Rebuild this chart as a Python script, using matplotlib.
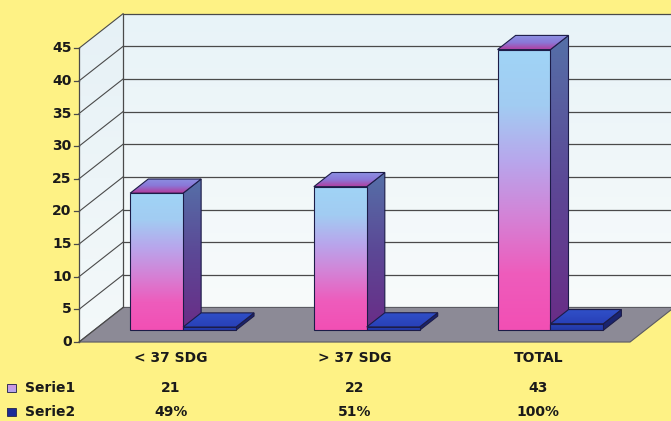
import numpy as np
import matplotlib
matplotlib.use('Agg')
import matplotlib.pyplot as plt
from matplotlib.patches import Polygon
from matplotlib.colors import LinearSegmentedColormap

categories = ['< 37 SDG', '> 37 SDG', 'TOTAL']
serie1 = [21, 22, 43]
serie2 = [0.49, 0.51, 1.00]
series_names = ['Serie1', 'Serie2']
yticks = np.arange(0, 50, 5)

YMAX = 45
OX, OY = 0.24, 5.3      # offset of the back wall (full depth)
D0, D1 = 0.34, 0.75     # depth range of the columns
BAR_W = 0.288
BAR_C = 0.485           # centre of the column pair inside a category
EDGE = '#1c1c48'
GRID = '#4a4a4a'
TXT = dict(fontsize=10, fontweight='bold', color='#1a1a1a')

plt.rcParams['font.family'] = ['DejaVu Sans']

fig = plt.figure(figsize=(6.71, 4.21), dpi=100)
fig.patch.set_facecolor('#fef285')
ax = fig.add_axes([0, 0, 1, 1])
ax.set_facecolor('none')
ax.axis('off')


def dp(x, y, d):
    return (x + d * OX, y + d * OY)


def grad_poly(poly, colors, z, horizontal=False, edge=None, lw=0.8):
    patch = Polygon(poly, closed=True, facecolor='none',
                    edgecolor=edge if edge else 'none', lw=lw, zorder=z + 0.1)
    ax.add_patch(patch)
    xs = [p[0] for p in poly]
    ys = [p[1] for p in poly]
    cmap = LinearSegmentedColormap.from_list('g', colors)
    g = np.linspace(0, 1, 256)
    g = g[None, :] if horizontal else g[:, None]
    im = ax.imshow(g, cmap=cmap, origin='lower', aspect='auto',
                   extent=[min(xs), max(xs), min(ys), max(ys)],
                   interpolation='bilinear', zorder=z)
    im.set_clip_path(patch)


n = len(categories)

# walls and floor
back = [dp(0, 0, 1), dp(n, 0, 1), dp(n, YMAX, 1), dp(0, YMAX, 1)]
grad_poly(back, ['#f8fbfb', '#e8f3f8'], 1)
left = [(0, 0), dp(0, 0, 1), dp(0, YMAX, 1), (0, YMAX)]
grad_poly(left, ['#f4f9fa', '#e6f1f6'], 1)
floor = Polygon([(0, 0), (n, 0), dp(n, 0, 1), dp(0, 0, 1)], closed=True,
                facecolor='#8c8a96', edgecolor='#5a5a62', lw=0.8, zorder=2)
ax.add_patch(floor)

# gridlines on back and side walls
for v in yticks:
    if v > 0:
        x0, y0 = dp(0, v, 1)
        x1, y1 = dp(n, v, 1)
        ax.plot([x0, x1], [y0, y1], color=GRID, lw=0.9, zorder=3)
    bx, by = dp(0, v, 1)
    ax.plot([0, bx], [v, by], color=GRID, lw=0.8, zorder=3)
    ax.plot([-0.027, 0], [v, v], color=GRID, lw=0.9, zorder=3)
    ax.text(-0.04, v, str(v), ha='right', va='center', zorder=5, **TXT)
tx, ty = dp(0, 0, 1)
ax.plot([tx, tx], [ty, ty + YMAX], color=GRID, lw=0.9, zorder=3)
ax.plot([0, 0], [0, YMAX], color=GRID, lw=0.9, zorder=3)


def column(x0, h, front, side, top, z):
    w = BAR_W
    side_poly = [dp(x0 + w, 0, D0), dp(x0 + w, 0, D1), dp(x0 + w, h, D1), dp(x0 + w, h, D0)]
    top_poly = [dp(x0, h, D0), dp(x0 + w, h, D0), dp(x0 + w, h, D1), dp(x0, h, D1)]
    front_poly = [dp(x0, 0, D0), dp(x0 + w, 0, D0), dp(x0 + w, h, D0), dp(x0, h, D0)]
    grad_poly(side_poly, side, z, edge=EDGE)
    grad_poly(top_poly, top, z + 0.2, edge=EDGE)
    grad_poly(front_poly, front, z + 0.4, edge=EDGE)


for i in range(n):
    base = 10 + i * 2
    column(i + BAR_C - BAR_W, serie1[i],
           ['#f24fb4', '#ee5cbc', '#d482d6', '#b8a6ec', '#a2ccf2', '#a0d4f6'],
           ['#6a2c86', '#5c4896', '#5570a8'],
           ['#b43a9c', '#8a78d8', '#8c92e2'], base)
    column(i + BAR_C, serie2[i],
           ['#2238a8', '#2a44b8'],
           ['#1a2470', '#1a2470'],
           ['#2840b8', '#3050c8'], base + 1)

# category labels and data table
for i, c in enumerate(categories):
    ax.text(i + 0.5, -2.4, c, ha='center', va='center', **TXT)
    ax.text(i + 0.5, -7.05, f'{serie1[i]}', ha='center', va='center', **TXT)
    ax.text(i + 0.5, -10.75, f'{serie2[i]:.0%}', ha='center', va='center', **TXT)

keys = [['#b6a6ee', '#d890dc'], ['#1c2c98', '#1c2c98']]
for row, (name, y) in enumerate(zip(series_names, [-7.05, -10.75])):
    kx0, kx1 = -0.390, -0.345
    key = [(kx0, y - 0.65), (kx1, y - 0.65), (kx1, y + 0.65), (kx0, y + 0.65)]
    grad_poly(key, keys[row], 6, edge='#333355', lw=0.7)
    ax.text(-0.294, y, name, ha='left', va='center', **TXT)

ax.set_xlim(-0.430, 3.223)
ax.set_ylim(-12.1, 52.4)

fig.savefig('out.png', dpi=100, facecolor=fig.get_facecolor())
